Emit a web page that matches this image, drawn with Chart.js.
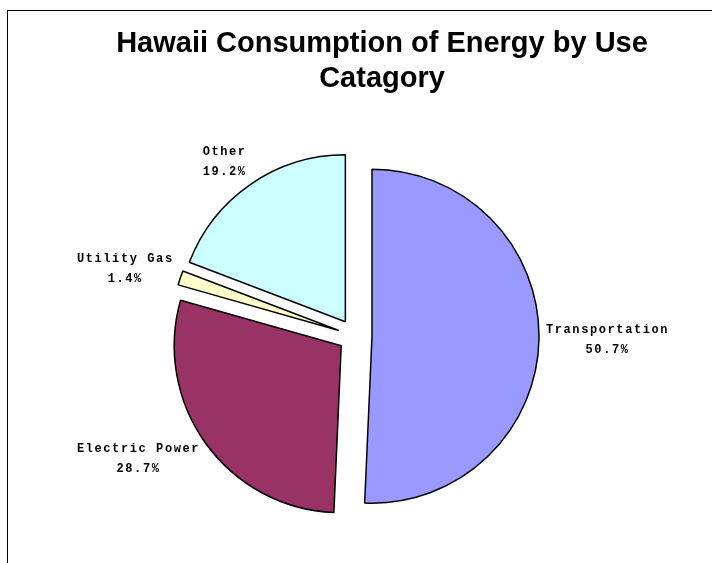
<!DOCTYPE html>
<html>
<head>
<meta charset="utf-8">
<script src="https://cdn.jsdelivr.net/npm/chart.js@4"></script>
<style>
  html, body { margin: 0; padding: 0; background: #fff; overflow: hidden; }
  #frame {
    position: absolute;
    left: 7px;
    top: 10px;
    width: 748px;
    height: 600px;
    border: 1px solid #000;
  }
</style>
</head>
<body>
<div id="frame"><canvas id="energyUse" width="748" height="600"></canvas></div>
<script>
const categories = ["Transportation", "Electric Power", "Utility Gas", "Other"];
const shares = [50.7, 28.7, 1.4, 19.2];
const sliceColors = ["#9999ff", "#993366", "#ffffcc", "#ccffff"];

const EXPLODE = 17;
const LABEL_GAP = 7;

// empty box on the right so the pie sits left of the (full width) title
const rightGutter = {
  id: "rightGutter",
  beforeInit(chart) {
    Chart.layouts.addBox(chart, {
      position: "right",
      weight: 0,
      fullSize: false,
      options: {},
      isHorizontal() {
        return false;
      },
      update(maxWidth, maxHeight) {
        this.width = 54;
        this.height = maxHeight;
        return { width: 54, height: maxHeight };
      },
      draw() {},
    });
  },
};

// pull every slice out along its own middle angle, keeping radius unchanged
const explodePlugin = {
  id: "explode",
  afterUpdate(chart) {
    chart.getDatasetMeta(0).data.forEach((arc) => {
      if (arc._exploded) return;
      arc._exploded = true;
      const baseDraw = arc.draw;
      arc.draw = function (ctx, area) {
        const mid = (this.startAngle + this.endAngle) / 2;
        ctx.save();
        ctx.translate(Math.cos(mid) * EXPLODE, Math.sin(mid) * EXPLODE);
        baseDraw.call(this, ctx, area);
        ctx.restore();
      };
    });
  },
};

const sliceLabels = {
  id: "sliceLabels",
  afterDatasetsDraw(chart) {
    const ctx = chart.ctx;
    const lineH = 20;
    ctx.save();
    ctx.font = "bold 12px 'Liberation Mono', 'Courier New', monospace";
    ctx.letterSpacing = "1.6px";
    ctx.fillStyle = "#000";
    ctx.textAlign = "center";
    ctx.textBaseline = "middle";
    chart.getDatasetMeta(0).data.forEach((arc, i) => {
      const lines = [categories[i], shares[i].toFixed(1) + "%"];
      const w = Math.max(...lines.map((t) => ctx.measureText(t).width));
      const h = lines.length * lineH;
      const mid = (arc.startAngle + arc.endAngle) / 2;
      const dx = Math.cos(mid);
      const dy = Math.sin(mid);
      const dist = arc.outerRadius + EXPLODE + LABEL_GAP;
      const px = arc.x + dx * dist;
      const py = arc.y + dy * dist;
      const left = dx >= 0 ? px : px - w;
      const cy = py + dy * (h / 2);
      lines.forEach((t, j) => {
        ctx.fillText(t, left + w / 2, cy - h / 2 + lineH * (j + 0.5));
      });
    });
    ctx.restore();
  },
};

const energyCtx = document.getElementById("energyUse").getContext("2d");
const energyChart = new Chart(energyCtx, {
  type: "pie",
  plugins: [rightGutter, explodePlugin, sliceLabels],
  options: {
    responsive: false,
    animation: false,
    events: [],
    radius: 167,
    layout: {
      padding: { left: 0, right: 0, top: 0, bottom: 50 },
    },
    plugins: {
      legend: { display: false },
      tooltip: { enabled: false },
      title: {
        display: true,
        text: ["Hawaii Consumption of Energy by Use", "Catagory"],
        color: "#000",
        font: {
          family: "'Liberation Sans', Arial, sans-serif",
          size: 29,
          weight: "bold",
          lineHeight: 1.2,
        },
        padding: { top: 16, bottom: 14 },
      },
    },
  },
  data: {
    labels: categories,
    datasets: [
      {
        label: "Share of energy use",
        data: shares,
        backgroundColor: sliceColors,
        borderColor: "#000",
        borderWidth: 1.5,
      },
    ],
  },
});
</script>
</body>
</html>
